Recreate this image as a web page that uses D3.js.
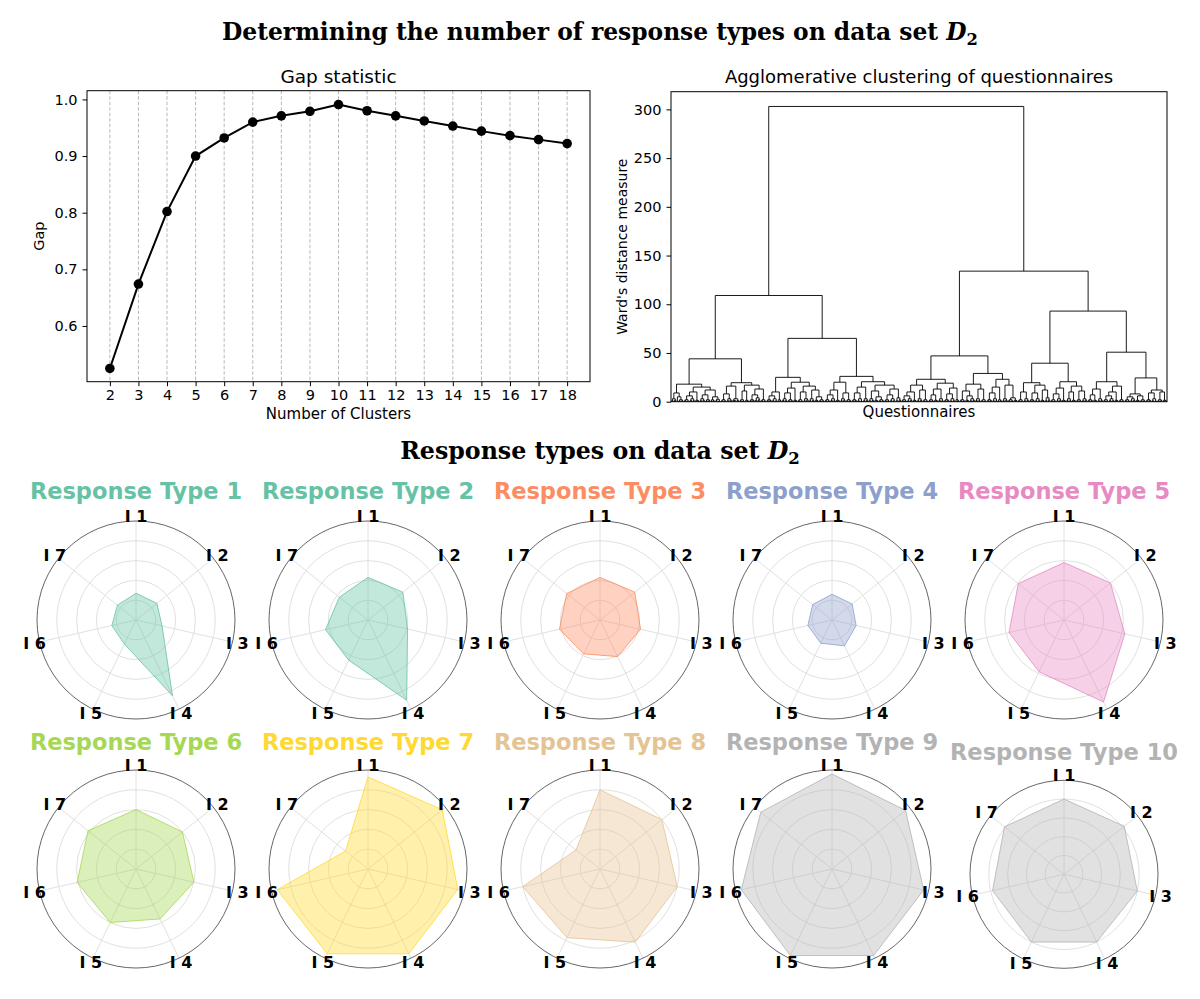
<!DOCTYPE html>
<html><head><meta charset="utf-8">
<script src="https://cdn.jsdelivr.net/npm/d3@7"></script>
<style>
body{margin:0;background:#fff}
svg text{font-family:"DejaVu Sans",sans-serif;fill:#000}
</style></head>
<body><svg id="chart" width="1200" height="999"></svg>
<script>
// ---------------- DATA ----------------
const mainTitle = "Determining the number of response types on data set ";
const sectionTitle = "Response types on data set ";
const gapTitle = "Gap statistic";
const gapXLabel = "Number of Clusters";
const gapYLabel = "Gap";
const clusterCounts = [2,3,4,5,6,7,8,9,10,11,12,13,14,15,16,17,18];
const gapValues = [0.525,0.674,0.802,0.900,0.932,0.960,0.971,0.979,0.991,0.980,0.971,0.962,0.953,0.944,0.936,0.929,0.922];
const gapYTicks = [0.6,0.7,0.8,0.9,1.0];

const dendroTitle = "Agglomerative clustering of questionnaires";
const dendroXLabel = "Questionnaires";
const dendroYLabel = "Ward's distance measure";
const wardTicks = [0,50,100,150,200,250,300];
// node = [mergeHeight, left, right]; number>0 = two questionnaires merged at that height; 0 = single questionnaire
const clusterLLL = [18,[9,[3,1,1.5],[5,0,[2,0.8,1]]],[15,[10,[6,[2,1,0.5],[3,1.2,1]],[1.5,0,1]],[12,[7,[3,1,1.4],[2,0.7,1]],[5,[2,0,1],[2.5,1,0.6]]]]];
const clusterLLR = [19.5,[16,[8,[2,1,0.8],[3,1,1.5]],[3,[1.5,0,1],1.2]],[17,[11,[2,1,0.6],[1.5,0,0.8]],[13,[7,[2,1,1.2],[4,1.5,2]],[2,1,0.7]]]];
const clusterLRL = [25,[10,[6,[2,1,1.3],[3,1,0.8]],[2,0,1]],[20,[14,[9,[3,1.2,1],[2,1,0.9]],[1.5,0,1]],[16,[10,[2,1,0.6],[3,1,1.8]],[12,[3,1,1.3],[5,[1.5,0,1],[2,1,0.8]]]]]];
const clusterLRR = [26,[20,[12,[7,[2,1,0.7],[3,1.2,1]],[1.5,0,1]],[9,[3,1,1.5],[2,0.8,1]]],[20.5,[15,[9,[2,1,1.1],[3,1,0.6]],[3,1,1.6]],[17,[11,[3,1,1.2],[5,[1.5,0,1],[2,0.9,1]]],[13,[7,[2,1,0.8],[3,1.1,1]],[4,1,1.7]]]]];
const clusterRLL = [23,[17,[10,[6,[2,1,0.8],[3,1,1.2]],[1.5,0,1]],[12,[3,1,1.4],[2,1,0.7]]],[19,[13,[7,[2,1,0.9],[1.5,0,1]],[3,1.2,1]],[14,[8,[2,1,1.3],[3,0.8,1]],[2,0,1]]]];
const clusterRLR = [29,[18,[11,[2,1,0.8],[6,[1.5,0,1],[3,1,1.3]]],[13,[3,1.2,1],[2,1,0.6]]],[23,[15,[9,[2,1,1.1],[3,1,0.9]],[2,0,1]],[17,[3,1,1.5],[4,[2,1,0.8],[1.5,0,1]]]]];
const clusterRRLL = [19.5,[10,[2,1,0.7],[3,1,1.4]],[17,[9,[2,1,1.2],[3,0.9,1]],[12,[1.5,0,1],[4,1,1.8]]]];
const clusterRRLR = [20.5,[14,[8,[2,1,0.8],[3,1,1.3]],[1.5,0,1]],[16,[10,[3,1.1,1],[1.5,0,1]],[11,[2,1,0.9],[3,1,1.6]]]];
const clusterRRRL = [20.5,[13,[7,[2,1,1.1],[1.5,0,1]],[3,1,1.4]],[16,[10,[6,[2,1,0.7],[3,1.2,1]],[1.5,0,1]],[2,1,0.8]]];
const clusterRRRR = [24.4,[8,[5,[2,1,0.8],[3,1,1.2]],[6,[1.5,0,1],[2,1,0.9]]],[12,[9,[2,1,1.3],[3,1,0.7]],[10,[2,0.9,1],[1.5,0,1]]]];
const dendroTree = [303,
  [109,[44,clusterLLL,clusterLLR],[65,clusterLRL,clusterLRR]],
  [134,[47,clusterRLL,clusterRLR],[93,[39.5,clusterRRLL,clusterRRLR],[50.8,clusterRRRL,clusterRRRR]]]];

const itemLabels = ["I 1","I 2","I 3","I 4","I 5","I 6","I 7"];
const responseTypeNames = ["Response Type 1","Response Type 2","Response Type 3","Response Type 4","Response Type 5",
  "Response Type 6","Response Type 7","Response Type 8","Response Type 9","Response Type 10"];
const type1 = [0.27,0.27,0.27,0.85,0.27,0.25,0.24];
const type2 = [0.43,0.45,0.41,0.90,0.45,0.44,0.37];
const type3 = [0.43,0.45,0.42,0.41,0.38,0.42,0.43];
const type4 = [0.26,0.26,0.25,0.29,0.26,0.25,0.25];
const type5 = [0.58,0.60,0.63,0.92,0.58,0.57,0.59];
const type6 = [0.60,0.60,0.60,0.56,0.60,0.61,0.62];
const type7 = [0.93,0.96,0.93,0.95,0.95,0.94,0.29];
const type8 = [0.80,0.80,0.80,0.82,0.77,0.80,0.31];
const type9 = [0.96,0.95,0.95,0.97,0.97,0.94,0.92];
const type10 = [0.80,0.82,0.80,0.80,0.80,0.78,0.81];
const typeColors = ["#66c2a5","#66c2a5","#fc8d62","#8da0cb","#e78ac3","#a6d854","#ffd92f","#e5c494","#b3b3b3","#b3b3b3"];
const radialGrid = [0.2,0.4,0.6,0.8];

// ---------------- DRAWING ----------------
const svg = d3.select("#chart");

function fitText(sel, target){
  const w = sel.node().getComputedTextLength();
  const fs = parseFloat(sel.attr("font-size"));
  sel.attr("font-size", fs*target/w);
}

function mathTitle(txt, y, targetW){
  const t = svg.append("text").attr("x",600).attr("y",y).attr("text-anchor","middle")
    .attr("font-size",22).attr("font-weight","bold")
    .style("font-family","'DejaVu Serif',serif");
  t.append("tspan").text(txt);
  t.append("tspan").attr("font-style","italic").text("D");
  t.append("tspan").attr("font-size","0.7em").attr("dy","0.3em").text("2");
  fitText(t, targetW);
  return t;
}
mathTitle(mainTitle, 40, 756);
mathTitle(sectionTitle, 459, 400);

// ---------- Gap statistic ----------
{
  const L=87, R=590, T=90.7, B=381.7;
  const x = d3.scaleLinear().domain([1.2,18.8]).range([L,R]);
  const y = d3.scaleLinear().domain([0.5016,1.0154]).range([B,T]);
  const g = svg.append("g");
  g.selectAll("line.grid").data(clusterCounts).join("line")
    .attr("x1",d=>x(d)).attr("x2",d=>x(d)).attr("y1",T).attr("y2",B)
    .attr("stroke","#b0b0b0").attr("stroke-width",0.9).attr("stroke-dasharray","3.5,2");
  const xa = g.append("g").attr("transform",`translate(0,${B})`)
    .call(d3.axisBottom(x).tickValues(clusterCounts).tickFormat(d3.format("d")).tickSize(4.5).tickPadding(4));
  const ya = g.append("g").attr("transform",`translate(${L},0)`)
    .call(d3.axisLeft(y).tickValues(gapYTicks).tickFormat(d3.format(".1f")).tickSize(4.5).tickPadding(5));
  [xa,ya].forEach(a=>{a.select(".domain").remove();
    a.selectAll("text").attr("font-size",14.5).style("font-family","'DejaVu Sans',sans-serif").attr("fill","#000");
    a.selectAll("line").attr("stroke","#000");});
  g.append("rect").attr("x",L).attr("y",T).attr("width",R-L).attr("height",B-T)
    .attr("fill","none").attr("stroke","#000").attr("stroke-width",1);
  const line = d3.line().x((d,i)=>x(clusterCounts[i])).y(d=>y(d));
  g.append("path").datum(gapValues).attr("d",line).attr("fill","none").attr("stroke","#000").attr("stroke-width",2);
  g.selectAll("circle").data(gapValues).join("circle")
    .attr("cx",(d,i)=>x(clusterCounts[i])).attr("cy",d=>y(d)).attr("r",4.8).attr("fill","#000");
  g.append("text").attr("x",(L+R)/2).attr("y",83).attr("text-anchor","middle").attr("font-size",18.5).text(gapTitle);
  g.append("text").attr("x",(L+R)/2).attr("y",419).attr("text-anchor","middle").attr("font-size",15).text(gapXLabel);
  g.append("text").attr("transform",`translate(44,${(T+B)/2}) rotate(-90)`).attr("text-anchor","middle").attr("font-size",14.5).text(gapYLabel);
}

// ---------- Dendrogram ----------
{
  const L=671, R=1167, T=91.7, B=401.7;
  function build(n){
    if (typeof n === "number"){
      if (n===0) return {h:0};
      return {h:n, children:[{h:0},{h:0}]};
    }
    return {h:n[0], children:[build(n[1]), build(n[2])]};
  }
  const root = d3.hierarchy(build(dendroTree), d=>d.children);
  const leaves = root.leaves();
  const N = leaves.length;
  const x = d3.scaleLinear().domain([0,10*N]).range([L,R]);
  const y = d3.scaleLinear().domain([0,303*1.05]).range([B,T]);
  leaves.forEach((l,i)=>{ l.px = 5+10*i; });
  root.eachAfter(n=>{ if(n.children) n.px = (n.children[0].px + n.children[1].px)/2; });
  const g = svg.append("g");
  const internal = root.descendants().filter(n=>n.children);
  g.selectAll("path.link").data(internal).join("path")
    .attr("d",n=>{
      const a=n.children[0], b=n.children[1];
      return `M${x(a.px)},${y(a.data.h)}V${y(n.data.h)}H${x(b.px)}V${y(b.data.h)}`;
    })
    .attr("fill","none").attr("stroke","#000").attr("stroke-width",0.9);
  const ya = g.append("g").attr("transform",`translate(${L},0)`)
    .call(d3.axisLeft(y).tickValues(wardTicks).tickSize(4.5).tickPadding(5));
  ya.select(".domain").remove();
  ya.selectAll("text").attr("font-size",14.5).style("font-family","'DejaVu Sans',sans-serif").attr("fill","#000");
  ya.selectAll("line").attr("stroke","#000");
  g.append("rect").attr("x",L).attr("y",T).attr("width",R-L).attr("height",B-T)
    .attr("fill","none").attr("stroke","#000").attr("stroke-width",1);
  g.append("text").attr("x",(L+R)/2).attr("y",83).attr("text-anchor","middle").attr("font-size",18).text(dendroTitle);
  g.append("text").attr("x",(L+R)/2).attr("y",417).attr("text-anchor","middle").attr("font-size",15).text(dendroXLabel);
  g.append("text").attr("transform",`translate(627,${(T+B)/2}) rotate(-90)`).attr("text-anchor","middle").attr("font-size",14).text(dendroYLabel);
}

// ---------- Radar charts ----------
{
  const typeValues = [type1,type2,type3,type4,type5,type6,type7,type8,type9,type10];
  const n = itemLabels.length;
  const ang = i => i*2*Math.PI/n;
  typeValues.forEach((vals,k)=>{
    const row = Math.floor(k/5), col = k%5;
    const cx = 136 + col*232;
    let cy = row===0 ? 620 : 869;
    let Rr = 99;
    let titleY = row===0 ? 499 : 750;
    if (k===9){ cy = 874.3; Rr = 94; titleY = 760; }
    const r = d3.scaleLinear().domain([0,1]).range([0,Rr]);
    const g = svg.append("g").attr("transform",`translate(${cx},${cy})`);
    g.selectAll("circle.grid").data(radialGrid).join("circle")
      .attr("r",d=>r(d)).attr("fill","none").attr("stroke","#dcdcdc").attr("stroke-width",0.9);
    g.selectAll("line.spoke").data(itemLabels).join("line")
      .attr("x1",0).attr("y1",0)
      .attr("x2",(d,i)=>r(1)*Math.sin(ang(i))).attr("y2",(d,i)=>-r(1)*Math.cos(ang(i)))
      .attr("stroke","#dcdcdc").attr("stroke-width",0.9);
    const radial = d3.lineRadial().angle((d,i)=>ang(i)).radius(d=>r(d)).curve(d3.curveLinearClosed);
    g.append("path").datum(vals).attr("d",radial)
      .attr("fill",typeColors[k]).attr("fill-opacity",0.4)
      .attr("stroke",typeColors[k]).attr("stroke-opacity",0.8).attr("stroke-width",1);
    g.append("circle").attr("r",r(1)).attr("fill","none").attr("stroke","#555").attr("stroke-width",0.9);
    g.selectAll("text.lab").data(itemLabels).join("text")
      .attr("x",(d,i)=>(r(1)+5)*Math.sin(ang(i))).attr("y",(d,i)=>-(r(1)+5)*Math.cos(ang(i)))
      .attr("text-anchor","middle").attr("dominant-baseline","central")
      .attr("font-size",16).attr("font-weight","bold").text(d=>d);
    svg.append("text").attr("x",cx).attr("y",titleY).attr("text-anchor","middle")
      .attr("font-size",22.5).attr("font-weight","bold")
      .style("fill",typeColors[k]).text(responseTypeNames[k]);
  });
}
</script></body></html>
